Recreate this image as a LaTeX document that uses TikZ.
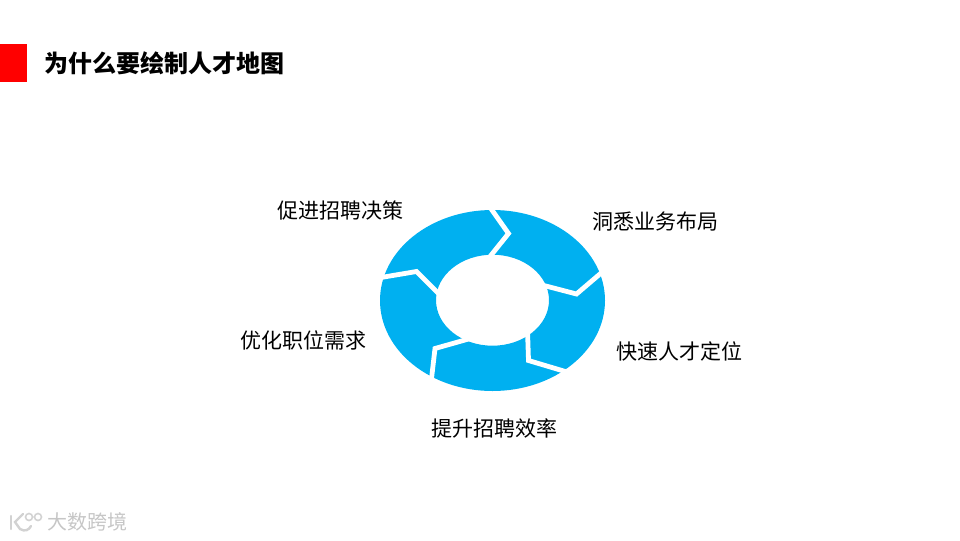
\documentclass[tikz,border=0pt]{standalone}
\usepackage{fontspec}
\setmainfont{Noto Sans CJK SC}
\begin{document}
\begin{tikzpicture}[x=0.75pt, y=-0.75pt, line join=miter]
        % --- styles ---
        \tikzset{
            head_mark/.style={fill=red, draw=none},
            head_title/.style={font=\bfseries\fontsize{18}{22}\selectfont, anchor=west, inner sep=0pt},
            ring_fill/.style={fill=ringblue, draw=none, even odd rule},
            ring_gap/.style={draw=white, line width=3.6pt},
            ring_label/.style={font=\fontsize{15.75}{19}\selectfont, inner sep=0pt, black},
            logo_line/.style={draw=gray!35, line width=1.8pt, line cap=round},
            logo_text/.style={font=\fontsize{15}{17}\selectfont, text=gray!45, anchor=west, inner sep=0pt}
        }
        \definecolor{ringblue}{HTML}{00B0F0}

        \useasboundingbox (0,0) rectangle (960,540);

        % header
        \path[head_mark] (0,44) rectangle (27,82);
        \node[head_title] (titleText) at (44,63) {为什么要绘制人才地图};

        % ring
        \path[ring_fill] (492.5,300.5) ellipse [x radius=112.5, y radius=90.5]
            (492.5,300.2) ellipse [x radius=56.5, y radius=45.5];

        % gaps between the arrows
        \draw[ring_gap] (487,203) -- (508.5,233.5) -- (488,259);
        \draw[ring_gap] (607,268) -- (576.5,294) -- (542,285);
        \draw[ring_gap] (572,373.5) -- (528.5,360.5) -- (527.5,330);
        \draw[ring_gap] (431,383) -- (435,348.5) -- (472,338);
        \draw[ring_gap] (375,278.5) -- (416.5,271.5) -- (441,296);

        % labels
        \foreach \name/\x/\y/\txt in {
            labelA/340/210/促进招聘决策,
            labelB/655.5/222/洞悉业务布局,
            labelC/679.5/351/快速人才定位,
            labelD/494/428.5/提升招聘效率,
            labelE/303/340/优化职位需求} {
            \node[ring_label] (\name) at (\x,\y) {\txt};
        }

        % watermark
        \draw[logo_line] (11,516) -- (11,529);
        \draw[logo_line] (23,514) -- (15,522) -- (20,529) .. controls (25,532) and (29,530) .. (31,526);
        \draw[logo_line, line width=1.2pt] (29,517) circle (3.5) (38,517) circle (3.5);
        \node[logo_text] (logoText) at (47,522) {大数跨境};
\end{tikzpicture}
\end{document}
